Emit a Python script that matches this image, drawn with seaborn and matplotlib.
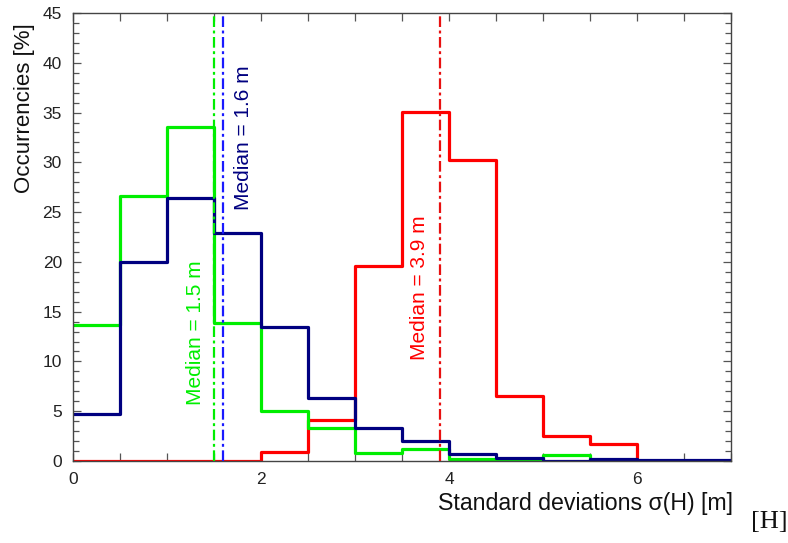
import numpy as np
import pandas as pd
import matplotlib
matplotlib.use("Agg")
import matplotlib.pyplot as plt
import seaborn as sns

# ---- data -------------------------------------------------------------
bin_edges = [0.0, 0.5, 1.0, 1.5, 2.0, 2.5, 3.0, 3.5, 4.0, 4.5, 5.0, 5.5, 6.0, 6.5, 7.0]
green_pct = [13.7, 26.6, 33.5, 13.9, 5.0, 3.3, 0.8, 1.2, 0.2, 0.1, 0.6, 0.0, 0.0, 0.0]
navy_pct = [4.7, 20.0, 26.4, 22.9, 13.5, 6.3, 3.3, 2.05, 0.7, 0.35, 0.05, 0.2, 0.06, 0.06]
red_pct = [0.0, 0.0, 0.0, 0.0, 0.9, 4.1, 19.6, 35.1, 30.2, 6.5, 2.5, 1.7, 0.0, 0.0]
medians = {"green": 1.5, "navy": 1.6, "red": 3.9}
median_labels = {"green": "Median = 1.5 m", "navy": "Median = 1.6 m", "red": "Median = 3.9 m"}
x_ticks = [0, 2, 4, 6]
y_ticks = [0, 5, 10, 15, 20, 25, 30, 35, 40, 45]

# ---- style ------------------------------------------------------------
sns.set_theme(style="white")
plt.rcParams["font.family"] = ["Liberation Sans", "DejaVu Sans"]

GREEN = "#00ee00"
NAVY = "#000080"
RED = "#ff0000"
BLUE = "#1a1aff"

fig = plt.figure(figsize=(7.88, 5.43), dpi=100)
ax = fig.add_axes([73 / 788, 1 - 461 / 543, (731 - 73) / 788, (461 - 13) / 543])

centers = [(a + b) / 2 for a, b in zip(bin_edges[:-1], bin_edges[1:])]
df = pd.DataFrame({
    "x": centers * 3,
    "w": red_pct + green_pct + navy_pct,
    "s": ["red"] * len(centers) + ["green"] * len(centers) + ["navy"] * len(centers),
})

for name, col in [("red", RED), ("green", GREEN), ("navy", NAVY)]:
    sub = df[df["s"] == name]
    sns.histplot(data=sub, x="x", weights="w", bins=bin_edges, element="step",
                 fill=False, color=col, linewidth=2.3, ax=ax)

dash = (0, (4.8, 1.6, 1.3, 1.6))
ax.axvline(medians["green"], color=GREEN, lw=1.6, linestyle=dash, zorder=5)
ax.axvline(medians["navy"], color=BLUE, lw=1.6, linestyle=dash, zorder=5)
ax.axvline(medians["red"], color="#e81010", lw=1.6, linestyle=dash, zorder=5)

ax.text(1.30, 12.9, median_labels["green"], color=GREEN, rotation=90,
        ha="center", va="center", fontsize=15)
ax.text(1.81, 32.5, median_labels["navy"], color=NAVY, rotation=90,
        ha="center", va="center", fontsize=15)
ax.text(3.69, 17.4, median_labels["red"], color=RED, rotation=90,
        ha="center", va="center", fontsize=15)

ax.set_xlim(0, 7)
ax.set_ylim(0, 45)
ax.set_xticks(x_ticks)
ax.set_xticks(np.arange(0, 7.01, 0.5), minor=True)
ax.set_yticks(y_ticks)
ax.set_yticks(np.arange(0, 45.01, 1), minor=True)
ax.tick_params(which="both", direction="in", top=True, right=True,
               bottom=True, left=True, color="#555555", width=0.9)
ax.tick_params(which="major", length=6, labelsize=12.5, labelcolor="#222222", pad=8)
ax.tick_params(which="minor", length=4)
ax.tick_params(axis="x", which="minor", length=6)

for sp in ax.spines.values():
    sp.set_color("#444444")
    sp.set_linewidth(1.0)

ax.set_ylabel("Occurrencies [%]", fontsize=16.0, color="#111111")
ax.yaxis.set_label_coords(-0.058, 0.788)
ax.set_xlabel("Standard deviations σ(H) [m]", fontsize=16.7, color="#111111")
ax.xaxis.set_label_coords(1.003, -0.07)
ax.xaxis.label.set_horizontalalignment("right")

fig.text(751 / 788, 1 - 522 / 543, "[H]", fontsize=19, family=["Liberation Serif", "DejaVu Serif"],
         ha="left", va="center", color="#111111")

fig.savefig("out.png", dpi=100)
